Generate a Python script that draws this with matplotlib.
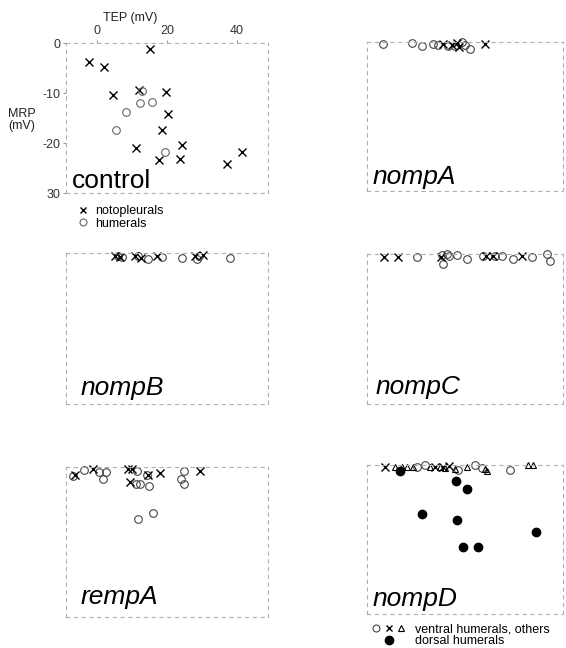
import matplotlib.pyplot as plt
from matplotlib.legend_handler import HandlerTuple
from matplotlib.lines import Line2D

plt.rcParams['font.family'] = ['Liberation Sans', 'DejaVu Sans']

# control
control_noto_tep = [15.1, -2.5, 2.0, 4.6, 12.0, 19.7, 20.2, 18.6, 11.1, 24.4, 17.6, 23.7, 37.3, 41.4]
control_noto_mrp = [-1.2, -3.7, -4.7, -10.4, -9.4, -9.8, -14.1, -17.4, -21.0, -20.3, -23.4, -23.1, -24.1, -21.8]
control_hum_tep = [12.8, 12.3, 15.6, 8.2, 5.4, 19.4]
control_hum_mrp = [-9.6, -12.0, -11.7, -13.8, -17.3, -21.8]

# nompA
nompA_x_tep = [13.6, 16.1, 17.7, 18.3, 25.9]
nompA_x_mrp = [-0.4, -0.6, -0.3, -1.0, -0.4]
nompA_o_tep = [-4.4, 4.2, 7.2, 10.6, 12.1, 15.1, 17.0, 19.0, 20.0, 21.5]
nompA_o_mrp = [-0.4, -0.3, -0.8, -0.4, -0.6, -0.9, -0.8, -0.1, -0.6, -1.4]

# nompB
nompB_x_tep = [5.0, 6.5, 10.8, 12.6, 17.2, 28.0, 30.4]
nompB_x_mrp = [-0.5, -0.8, -0.6, -1.0, -0.5, -0.5, -0.3]
nompB_o_tep = [6.0, 7.2, 11.8, 14.6, 18.5, 24.2, 28.5, 29.3, 38.1]
nompB_o_mrp = [-0.5, -0.7, -0.6, -1.2, -0.7, -0.9, -1.2, -0.6, -0.9]

# nompC
nompC_x_tep = [-4.0, 0.3, 12.8, 26.2, 28.2, 36.8]
nompC_x_mrp = [-0.5, -0.5, -0.5, -0.4, -0.4, -0.3]
nompC_o_tep = [5.7, 13.1, 13.6, 14.8, 15.4, 17.5, 20.7, 25.2, 28.8, 30.9, 34.1, 39.7, 44.2, 45.2]
nompC_o_mrp = [-0.5, -0.1, -1.9, 0.0, -0.3, -0.2, -0.9, -0.3, -0.3, -0.3, -0.9, -0.5, 0.0, -1.4]

# rempA
rempA_x_tep = [-6.4, -1.2, 8.9, 9.9, 9.4, 14.6, 18.0, 29.5]
rempA_x_mrp = [-1.6, -0.3, -0.4, -0.4, -2.9, -1.5, -1.1, -0.7]
rempA_o_tep = [-7.1, -3.8, 0.6, 2.5, 1.5, 11.5, 11.1, 12.2, 14.3, 14.9, 24.9, 23.9, 24.9, 11.8, 16.1]
rempA_o_mrp = [-1.7, -0.5, -0.9, -0.9, -2.4, -0.7, -3.3, -3.3, -1.6, -3.7, -0.7, -2.4, -3.4, -10.3, -9.2]

# nompD
nompD_o_tep = [5.7, 8.2, 18.0, 23.0, 24.9, 33.3]
nompD_o_mrp = [-0.4, 0.0, -1.0, -0.1, -0.6, -1.0]
nompD_x_tep = [-3.7, 11.0, 13.5, 15.4]
nompD_x_mrp = [-0.5, -0.5, -0.5, -0.2]
nompD_t_tep = [-0.7, 1.3, 2.8, 4.5, 9.6, 12.5, 14.1, 17.0, 20.5, 25.9, 26.6, 38.7, 40.2]
nompD_t_mrp = [-0.5, -0.4, -0.4, -0.4, -0.5, -0.5, -0.6, -0.8, -0.5, -0.8, -1.2, 0.0, 0.0]
nompD_dors_tep = [0.8, 17.2, 20.5, 7.2, 17.7, 41.0, 19.4, 23.8]
nompD_dors_mrp = [-1.3, -3.2, -4.8, -9.8, -11.0, -13.4, -16.6, -16.6]

W, H = 566, 648
fig = plt.figure(figsize=(W / 100, H / 100), dpi=100)


def make_ax(x0, y_top, w, h):
    ax = fig.add_axes([x0 / W, 1 - (y_top + h) / H, w / W, h / H])
    ax.set_xlim(-9, 49)
    ax.set_ylim(-30, 0)
    for s in ax.spines.values():
        s.set_color('#b0b0b0')
        s.set_linewidth(0.8)
        s.set_linestyle((0, (3, 4)))
    ax.tick_params(length=2, color='#999999', labelsize=9, width=0.8)
    ax.set_xticks([])
    ax.set_yticks([])
    return ax


def xs(ax, t, m):
    ax.plot(t, m, 'x', color='k', ms=5.5, mew=1.0, clip_on=False)


def os_(ax, t, m, color='#444444'):
    ax.plot(t, m, 'o', mfc='none', mec=color, ms=5.5, mew=0.8, clip_on=False)


def label(ax, txt, x, y, italic=True):
    ax.text(x, y, txt, transform=ax.transAxes, fontsize=19,
            style='italic' if italic else 'normal', va='baseline', ha='left')


# control
ax = make_ax(66, 43, 202, 150)
xs(ax, control_noto_tep, control_noto_mrp)
os_(ax, control_hum_tep, control_hum_mrp, '#666666')
ax.xaxis.tick_top()
ax.set_xticks([0, 20, 40])
ax.set_yticks([0, -10, -20, -30])
ax.set_yticklabels(['0', '-10', '-20', '30'])
ax.tick_params(colors='#999999', labelcolor='#333333', pad=2)
fig.text(130 / W, 1 - 18 / H, 'TEP (mV)', fontsize=9, ha='center', va='center', color='#222222')
fig.text(8 / W, 1 - 120 / H, 'MRP\n(mV)', fontsize=9, ha='left', va='center',
         color='#222222', linespacing=1.0)
label(ax, 'control', 0.03, 0.035, italic=False)
h1 = Line2D([], [], ls='none', marker='x', color='k', ms=5, mew=1.0)
h2 = Line2D([], [], ls='none', marker='o', mfc='none', mec='#666666', ms=5, mew=0.8)
fig.legend([h1, h2], ['notopleurals', 'humerals'], loc='upper left',
           bbox_to_anchor=(70 / W, 1 - 199 / H), frameon=False, fontsize=9,
           handlelength=1.0, handletextpad=0.5, labelspacing=0.05, borderpad=0)

# nompA
ax = make_ax(367, 42, 196, 149)
os_(ax, nompA_o_tep, nompA_o_mrp)
xs(ax, nompA_x_tep, nompA_x_mrp)
label(ax, 'nompA', 0.026, 0.05)

# nompB
ax = make_ax(66, 253, 202, 151)
os_(ax, nompB_o_tep, nompB_o_mrp)
xs(ax, nompB_x_tep, nompB_x_mrp)
label(ax, 'nompB', 0.07, 0.06)

# nompC
ax = make_ax(367, 254, 196, 150)
os_(ax, nompC_o_tep, nompC_o_mrp)
xs(ax, nompC_x_tep, nompC_x_mrp)
label(ax, 'nompC', 0.046, 0.067)

# rempA
ax = make_ax(66, 467, 202, 150)
os_(ax, rempA_o_tep, rempA_o_mrp)
xs(ax, rempA_x_tep, rempA_x_mrp)
label(ax, 'rempA', 0.07, 0.087)

# nompD
ax = make_ax(367, 465, 196, 149)
os_(ax, nompD_o_tep, nompD_o_mrp)
xs(ax, nompD_x_tep, nompD_x_mrp)
ax.plot(nompD_t_tep, nompD_t_mrp, '^', mfc='none', mec='k', ms=4.5, mew=0.8, clip_on=False)
ax.plot(nompD_dors_tep, nompD_dors_mrp, 'o', color='k', ms=6, clip_on=False)
label(ax, 'nompD', 0.03, 0.055)
hc = Line2D([], [], ls='none', marker='o', mfc='none', mec='#444444', ms=5, mew=0.8)
hx = Line2D([], [], ls='none', marker='x', color='k', ms=5, mew=1.0)
ht = Line2D([], [], ls='none', marker='^', mfc='none', mec='k', ms=4.5, mew=0.8)
hd = Line2D([], [], ls='none', marker='o', color='k', ms=6)
fig.legend([(hc, hx, ht), hd], ['ventral humerals, others', 'dorsal humerals'],
           handler_map={tuple: HandlerTuple(ndivide=None, pad=0.3)},
           loc='upper left', bbox_to_anchor=(366 / W, 1 - 617 / H), frameon=False,
           fontsize=9, handlelength=2.6, handletextpad=0.8, labelspacing=0.0, borderpad=0)

fig.savefig('out.png', dpi=100)
